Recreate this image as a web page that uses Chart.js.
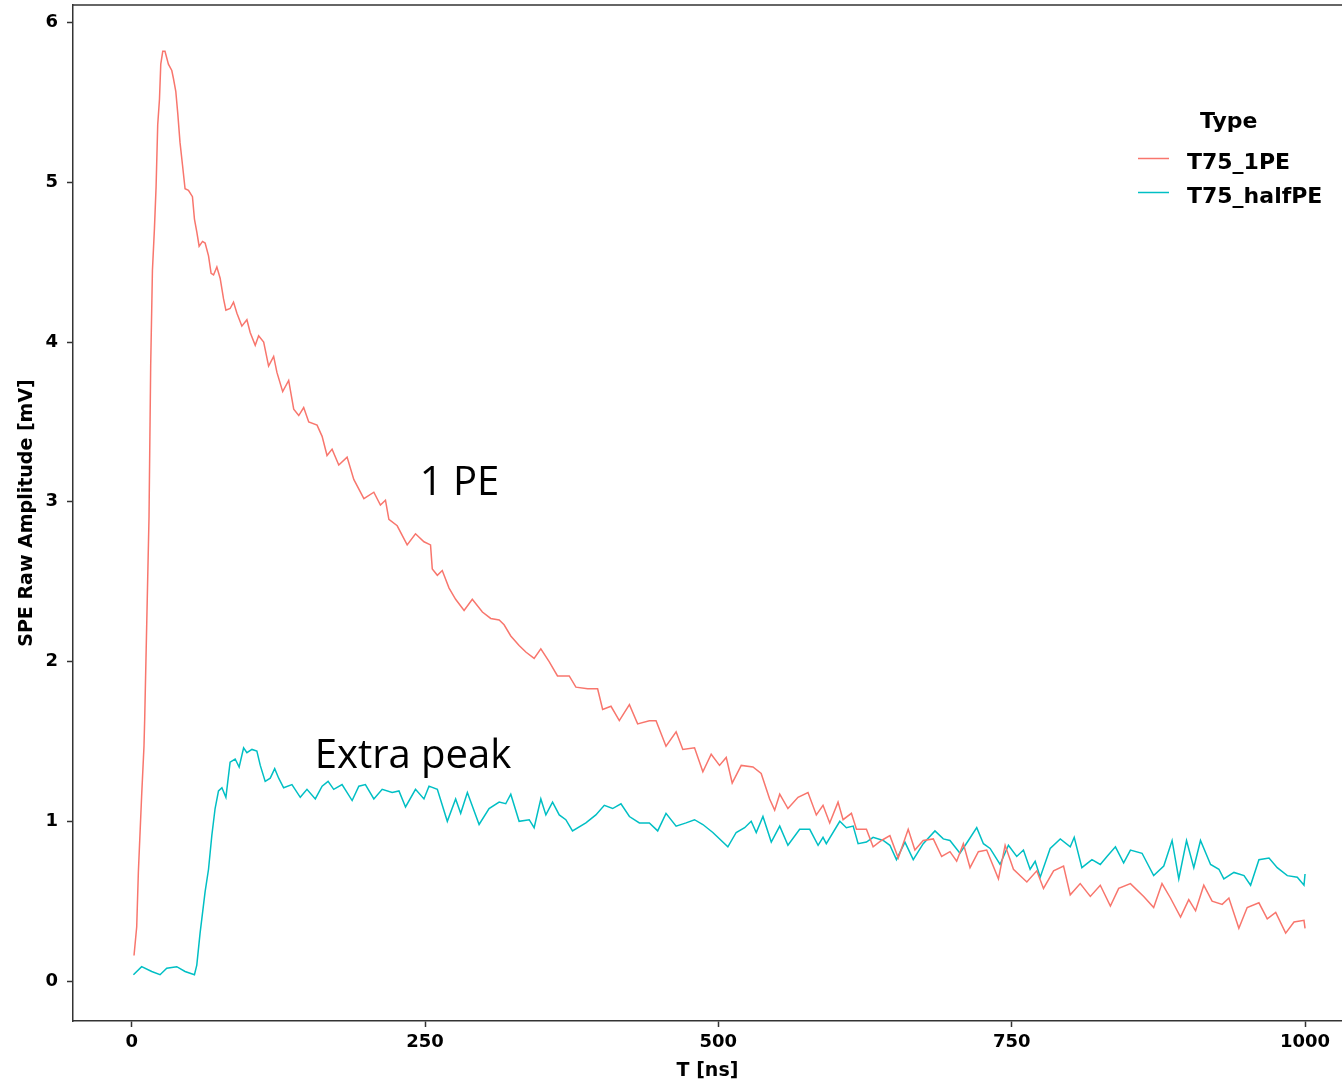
<!DOCTYPE html>
<html>
<head>
<meta charset="utf-8">
<script src="https://cdn.jsdelivr.net/npm/chart.js@4.4.0/dist/chart.umd.min.js"></script>
<style>
  html, body { margin: 0; padding: 0; background: #fff; overflow: hidden; }
  #wrap { width: 1342px; height: 1085px; position: relative; }
</style>
</head>
<body>
<div id="wrap"><canvas id="spe-chart"></canvas></div>
<script>
// Values (T in ns, amplitude in mV)
const t1PE = [2, 4.3, 5.7, 8.5, 10.5, 11.1, 14.8, 16.2, 17.7, 19.4,
    20.8, 22.2, 23.7, 24.8, 26.5, 28.4, 31.3, 34.2, 35.6, 37.6,
    39.3, 41.2, 43.3, 45.5, 48.4, 51.8, 53.5, 55.5, 57.5, 60.4,
    62.6, 65.5, 67.7, 69.8, 72.6, 75.4, 78.3, 80.3, 83.9, 86.8,
    89.7, 93.9, 98.2, 101.0, 105.3, 108.2, 112.5, 116.7, 121.0, 123.8,
    128.7, 133.8, 138.1, 142.4, 146.6, 150.9, 158.0, 162.3, 166.5, 170.8,
    176.5, 183.6, 189.3, 197.9, 206.4, 212.0, 216.3, 219.2, 226.3, 234.8,
    241.9, 249.1, 254.7, 256.2, 260.5, 264.7, 270.5, 276.1, 283.3, 290.3,
    298.9, 306.0, 313.2, 317.4, 323.1, 330.2, 335.9, 343.0, 348.7, 355.8,
    362.9, 372.9, 378.6, 388.6, 397.1, 401.4, 408.5, 415.6, 424.2, 431.2,
    441.2, 446.9, 455.4, 464.0, 469.7, 479.7, 486.8, 493.9, 501.0, 506.7,
    511.8, 519.5, 529.5, 536.5, 543.7, 548.0, 552.3, 559.3, 567.9, 576.4,
    583.5, 589.2, 594.9, 602.0, 606.3, 613.4, 617.7, 626.2, 631.9, 639.0,
    646.2, 653.3, 661.8, 667.5, 674.6, 683.2, 690.3, 697.4, 703.1, 708.8,
    714.5, 721.6, 728.7, 738.7, 744.4, 751.5, 762.9, 771.4, 777.1, 785.7,
    794.2, 799.9, 808.4, 817.0, 825.5, 834.1, 841.2, 851.2, 862.5, 871.0,
    878.1, 885.3, 893.9, 900.9, 906.7, 913.7, 920.8, 929.4, 935.1, 943.6,
    950.7, 960.7, 967.8, 975.0, 983.5, 990.6, 999.1, 1000];
const amp1PE = [0.16, 0.34, 0.68, 1.16, 1.47, 1.64, 2.91, 3.85, 4.45, 4.71,
    4.97, 5.36, 5.52, 5.74, 5.82, 5.82, 5.74, 5.70, 5.65, 5.57,
    5.43, 5.25, 5.11, 4.96, 4.95, 4.91, 4.77, 4.69, 4.60, 4.63,
    4.62, 4.54, 4.43, 4.42, 4.47, 4.40, 4.27, 4.20, 4.21, 4.25,
    4.18, 4.10, 4.14, 4.06, 3.98, 4.04, 4.00, 3.85, 3.91, 3.81,
    3.69, 3.76, 3.58, 3.54, 3.59, 3.50, 3.48, 3.41, 3.29, 3.33,
    3.23, 3.28, 3.14, 3.02, 3.06, 2.98, 3.01, 2.89, 2.85, 2.73,
    2.80, 2.75, 2.73, 2.58, 2.54, 2.57, 2.46, 2.39, 2.32, 2.39,
    2.31, 2.27, 2.26, 2.23, 2.16, 2.10, 2.06, 2.02, 2.08, 2.00,
    1.91, 1.91, 1.84, 1.83, 1.83, 1.70, 1.72, 1.63, 1.73, 1.61,
    1.63, 1.63, 1.47, 1.56, 1.45, 1.46, 1.31, 1.42, 1.35, 1.40,
    1.24, 1.35, 1.34, 1.30, 1.14, 1.07, 1.17, 1.08, 1.15, 1.18,
    1.04, 1.10, 0.99, 1.12, 1.01, 1.05, 0.95, 0.95, 0.84, 0.88,
    0.91, 0.77, 0.95, 0.82, 0.88, 0.89, 0.78, 0.81, 0.75, 0.86,
    0.71, 0.81, 0.82, 0.64, 0.85, 0.70, 0.62, 0.69, 0.58, 0.69,
    0.72, 0.54, 0.61, 0.53, 0.60, 0.47, 0.58, 0.61, 0.53, 0.46,
    0.61, 0.52, 0.40, 0.51, 0.44, 0.60, 0.50, 0.48, 0.52, 0.33,
    0.46, 0.49, 0.39, 0.43, 0.30, 0.37, 0.38, 0.33];

const tHalfPE = [1.5, 8.5, 17.1, 24.2, 29.9, 38.4, 45.5, 53.5, 55.5, 58.3,
    62.6, 65.5, 68.3, 71.1, 74.0, 76.9, 80.3, 83.9, 88.2, 91.6,
    95.4, 98.2, 102.5, 106.7, 109.6, 113.8, 118.1, 121.9, 125.3, 129.5,
    136.6, 143.7, 149.4, 156.5, 162.3, 167.4, 172.2, 179.3, 187.9, 193.6,
    199.2, 206.4, 213.5, 222.0, 227.8, 233.4, 241.9, 249.1, 253.4, 260.5,
    269.0, 276.1, 280.4, 286.1, 296.1, 304.6, 313.2, 318.8, 323.1, 330.2,
    338.8, 343.0, 348.7, 353.0, 358.7, 364.4, 370.0, 375.7, 387.1, 395.6,
    402.8, 409.9, 417.0, 424.2, 432.7, 441.2, 448.3, 455.4, 464.0, 472.5,
    479.7, 486.8, 495.3, 508.1, 515.2, 522.4, 528.0, 532.3, 538.0, 545.1,
    552.3, 559.3, 569.3, 577.9, 585.0, 589.2, 592.0, 603.5, 609.1, 614.9,
    619.1, 626.2, 631.9, 640.5, 646.2, 651.8, 659.0, 666.1, 674.6, 684.6,
    691.7, 697.4, 705.9, 713.1, 720.2, 725.9, 731.6, 740.1, 747.2, 754.3,
    760.0, 765.7, 770.0, 774.3, 782.8, 791.4, 799.9, 803.3, 809.8, 818.4,
    825.5, 831.2, 838.4, 845.4, 851.2, 861.1, 871.0, 879.6, 886.7, 892.4,
    899.0, 905.2, 910.9, 919.5, 926.6, 930.8, 939.4, 948.0, 953.6, 960.7,
    969.3, 976.3, 984.9, 993.4, 999.1, 1000];
const ampHalfPE = [0.04, 0.09, 0.06, 0.04, 0.08, 0.09, 0.06, 0.04, 0.10, 0.30,
    0.56, 0.70, 0.91, 1.08, 1.19, 1.21, 1.15, 1.37, 1.39, 1.34,
    1.46, 1.43, 1.45, 1.44, 1.35, 1.25, 1.27, 1.33, 1.27, 1.21,
    1.23, 1.15, 1.20, 1.14, 1.22, 1.25, 1.20, 1.23, 1.13, 1.22,
    1.23, 1.14, 1.20, 1.18, 1.19, 1.09, 1.20, 1.14, 1.22, 1.20,
    1.00, 1.14, 1.05, 1.18, 0.98, 1.08, 1.12, 1.11, 1.17, 1.00,
    1.01, 0.96, 1.14, 1.04, 1.12, 1.04, 1.01, 0.94, 0.99, 1.04,
    1.10, 1.08, 1.11, 1.03, 0.99, 0.99, 0.94, 1.05, 0.97, 0.99,
    1.01, 0.98, 0.93, 0.84, 0.93, 0.96, 1.00, 0.93, 1.03, 0.87,
    0.97, 0.85, 0.95, 0.95, 0.85, 0.90, 0.86, 1.00, 0.96, 0.97,
    0.86, 0.87, 0.90, 0.88, 0.85, 0.76, 0.87, 0.76, 0.86, 0.94,
    0.89, 0.88, 0.80, 0.88, 0.96, 0.86, 0.83, 0.73, 0.85, 0.78,
    0.82, 0.70, 0.75, 0.65, 0.83, 0.89, 0.84, 0.90, 0.71, 0.76,
    0.73, 0.78, 0.84, 0.74, 0.82, 0.80, 0.66, 0.72, 0.88, 0.64,
    0.88, 0.71, 0.88, 0.73, 0.70, 0.64, 0.68, 0.66, 0.60, 0.76,
    0.77, 0.71, 0.66, 0.65, 0.60, 0.67];

const xTicks = [0, 250, 500, 750, 1000];
const yTicks = [0, 1, 2, 3, 4, 5, 6];
const seriesNames = ['T75_1PE', 'T75_halfPE'];
const seriesColors = ['#F8766D', '#00BFC4'];

// text labels placed in data coordinates: [text, T, amplitude]
const notes = [['1 PE', 245.5, 3.04], ['Extra peak', 156, 1.335]];

const axisFont = 'DejaVu Sans';
const axisColor = '#333';

// top edge of the panel (ggplot frame)
const frameTop = {
    id: 'frameTop',
    afterDraw(chart) {
        const { ctx, chartArea } = chart;
        ctx.save();
        ctx.strokeStyle = axisColor;
        ctx.lineWidth = 1.5;
        ctx.beginPath();
        ctx.moveTo(chartArea.left, chartArea.top);
        ctx.lineTo(chartArea.right, chartArea.top);
        ctx.stroke();
        ctx.restore();
    },
};

const noteLabels = {
    id: 'noteLabels',
    afterDatasetsDraw(chart) {
        const { ctx, scales } = chart;
        ctx.save();
        ctx.fillStyle = '#000';
        ctx.font = '40px "Open Sans"';
        ctx.textAlign = 'left';
        ctx.textBaseline = 'alphabetic';
        notes.forEach(([txt, t, v]) => {
            ctx.fillText(txt, scales.x.getPixelForValue(t), scales.y.getPixelForValue(v));
        });
        ctx.restore();
    },
};

// legend in the style of ggplot (title + line keys)
const typeLegend = {
    id: 'typeLegend',
    afterDraw(chart) {
        const { ctx } = chart;
        ctx.save();
        ctx.fillStyle = '#000';
        ctx.font = 'bold 22px "' + axisFont + '"';
        ctx.textBaseline = 'alphabetic';
        ctx.fillText('Type', 1200, 128);
        chart.data.datasets.forEach((ds, i) => {
            const y = 158.5 + i * 34;
            ctx.strokeStyle = ds.borderColor;
            ctx.lineWidth = 1.5;
            ctx.beginPath();
            ctx.moveTo(1138, y);
            ctx.lineTo(1169, y);
            ctx.stroke();
            ctx.fillText(ds.label, 1187, y + 10.5);
        });
        ctx.restore();
    },
};

const toPoints = (ts, vs) => ts.map((t, i) => ({ x: t, y: vs[i] }));

const tickFont = { family: axisFont, size: 18, weight: 'bold' };

new Chart(document.getElementById('spe-chart').getContext('2d'), {
    type: 'line',
    data: {
        datasets: [
            {
                label: seriesNames[0],
                data: toPoints(t1PE, amp1PE),
                borderColor: seriesColors[0],
                borderWidth: 1.5,
                pointRadius: 0,
                fill: false,
                tension: 0,
            },
            {
                label: seriesNames[1],
                data: toPoints(tHalfPE, ampHalfPE),
                borderColor: seriesColors[1],
                borderWidth: 1.5,
                pointRadius: 0,
                fill: false,
                tension: 0,
            },
        ],
    },
    options: {
        responsive: true,
        maintainAspectRatio: false,
        animation: false,
        layout: { padding: { top: 5, left: 0, right: 0, bottom: 0 } },
        plugins: {
            legend: { display: false },
            tooltip: { enabled: false },
        },
        scales: {
            x: {
                type: 'linear',
                min: -50,
                max: 1031.5,
                afterBuildTicks: (axis) => { axis.ticks = xTicks.map(v => ({ value: v })); },
                afterFit: (scale) => {
                    scale.height = 64;
                    scale.paddingLeft = 0;
                    scale.paddingRight = 0;
                },
                ticks: { color: '#000', font: tickFont, padding: 5, maxRotation: 0, callback: (v) => String(v) },
                grid: { drawOnChartArea: false, drawTicks: true, tickLength: 6, tickColor: axisColor, tickWidth: 1.5 },
                border: { display: true, color: axisColor, width: 1.5 },
                title: {
                    display: true, text: 'T [ns]', color: '#000',
                    font: { family: axisFont, size: 19, weight: 'bold' },
                    padding: { top: 0, bottom: 3 },
                },
            },
            y: {
                type: 'linear',
                min: -0.25,
                max: 6.11,
                afterBuildTicks: (axis) => { axis.ticks = yTicks.map(v => ({ value: v })); },
                afterFit: (scale) => {
                    scale.width = 73;
                    scale.paddingTop = 0;
                    scale.paddingBottom = 0;
                },
                ticks: { color: '#000', font: tickFont, padding: 9, callback: (v) => String(v) },
                grid: { drawOnChartArea: false, drawTicks: true, tickLength: 6, tickColor: axisColor, tickWidth: 1.5 },
                border: { display: true, color: axisColor, width: 1.5 },
                title: {
                    display: true, text: 'SPE Raw Amplitude [mV]', color: '#000',
                    font: { family: axisFont, size: 19, weight: 'bold' },
                    padding: { top: 16, bottom: 0 },
                },
            },
        },
    },
    plugins: [frameTop, noteLabels, typeLegend],
});
</script>
</body>
</html>
